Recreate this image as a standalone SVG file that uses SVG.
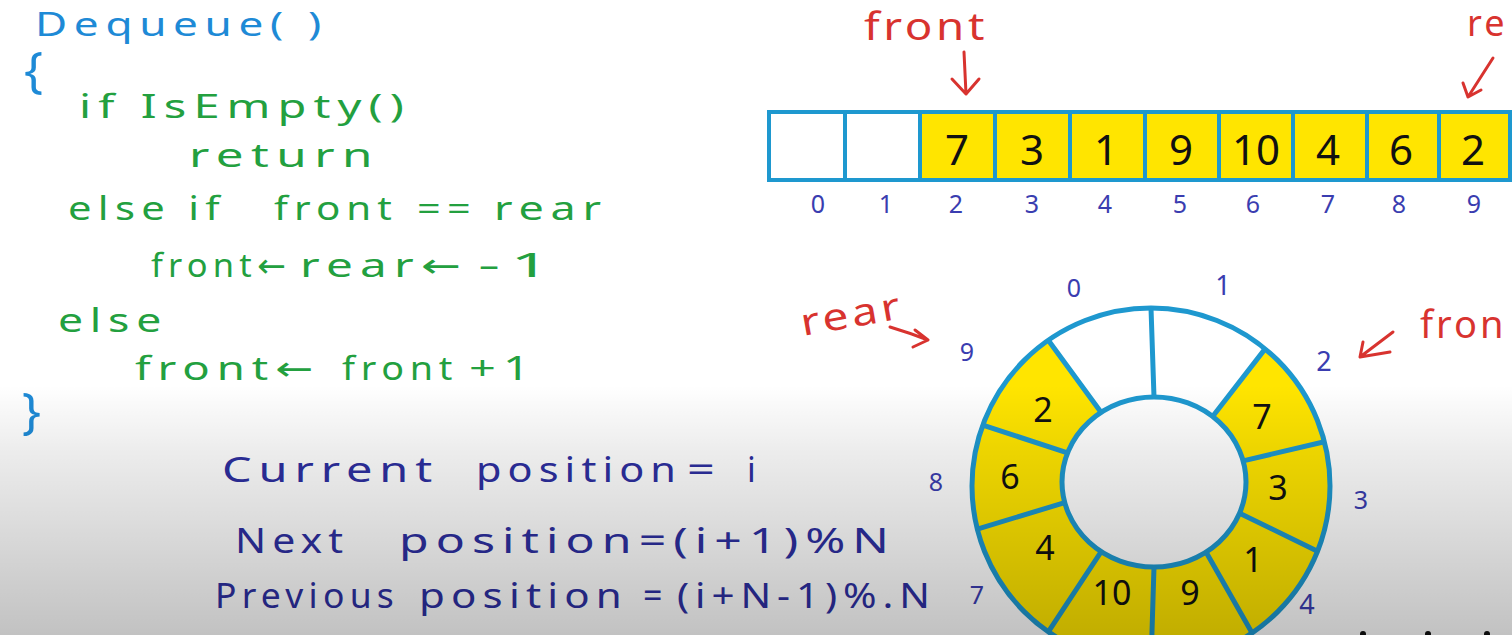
<svg xmlns="http://www.w3.org/2000/svg" width="1512" height="635" viewBox="0 0 1512 635">
<defs>
<style>
text { font-family: "Noto Sans", "DejaVu Sans", sans-serif; }
.code { fill: #23A03F; font-size: 33px; letter-spacing: 5px; }
.hdr { fill: #1E8AD6; font-size: 33px; letter-spacing: 5px; }
.brace { fill: #1E8AD6; font-size: 50px; }
.formula { fill: #2D2FA0; font-size: 34px; letter-spacing: 5px; }
.red { fill: #D8332F; font-size: 38px; letter-spacing: 3px; }
.idx { fill: #3A3DB0; font-size: 25px; text-anchor: middle; }
.num { fill: #111111; font-size: 42px; text-anchor: middle; }
.rnum { fill: #111111; font-size: 34px; text-anchor: middle; }
.cell { stroke: #1E98CF; stroke-width: 4; }
.yl { fill: #FFE500; }
.wh { fill: #FFFFFF; }
.ring { stroke: #1E98CF; stroke-width: 5; }
.arrow { stroke: #D8332F; stroke-width: 3; fill: none; stroke-linecap: round; stroke-linejoin: round; }
</style>
<linearGradient id="shade" x1="0" y1="385" x2="0" y2="635" gradientUnits="userSpaceOnUse">
<stop offset="0" stop-color="#000" stop-opacity="0"/>
<stop offset="0.25" stop-color="#000" stop-opacity="0.07"/>
<stop offset="1" stop-color="#000" stop-opacity="0.24"/>
</linearGradient>
</defs>
<rect width="1512" height="635" fill="#FFFFFF"/>

<g id="code">
<text class="hdr" x="35" y="36" textLength="293" lengthAdjust="spacingAndGlyphs">Dequeue( )</text>
<text class="brace" x="24" y="87">{</text>
<text class="code" x="79" y="118" textLength="332" lengthAdjust="spacingAndGlyphs">if IsEmpty()</text>
<text class="code" x="189" y="167" textLength="191" lengthAdjust="spacingAndGlyphs">return</text>
<text class="code" x="68" y="220" textLength="158" lengthAdjust="spacingAndGlyphs">else if</text>
<text class="code" x="274" y="220" textLength="124" lengthAdjust="spacingAndGlyphs">front</text>
<text class="code" x="417" y="220" textLength="60" lengthAdjust="spacingAndGlyphs">==</text>
<text class="code" x="494" y="220" textLength="114" lengthAdjust="spacingAndGlyphs">rear</text>
<text class="code" x="151" y="277" textLength="140" lengthAdjust="spacingAndGlyphs">front←</text>
<text class="code" x="300" y="277" textLength="168" lengthAdjust="spacingAndGlyphs">rear←</text>
<text class="code" x="478" y="277" textLength="82" lengthAdjust="spacingAndGlyphs">-1</text>
<text class="code" x="58" y="332" textLength="110" lengthAdjust="spacingAndGlyphs">else</text>
<text class="code" x="135" y="380" textLength="185" lengthAdjust="spacingAndGlyphs">front←</text>
<text class="code" x="342" y="380" textLength="116" lengthAdjust="spacingAndGlyphs">front</text>
<text class="code" x="469" y="380" textLength="68" lengthAdjust="spacingAndGlyphs">+1</text>
<text class="brace" x="22" y="428">}</text>
</g>

<g id="formulas">
<text class="formula" x="222" y="482" textLength="217" lengthAdjust="spacingAndGlyphs">Current</text>
<text class="formula" x="476" y="482" textLength="206" lengthAdjust="spacingAndGlyphs">position</text>
<text class="formula" x="687" y="482" textLength="35" lengthAdjust="spacingAndGlyphs">=</text>
<text class="formula" x="747" y="482">i</text>
<text class="formula" x="235" y="553" textLength="114" lengthAdjust="spacingAndGlyphs">Next</text>
<text class="formula" x="399" y="553" textLength="497" lengthAdjust="spacingAndGlyphs">position=(i+1)%N</text>
<text class="formula" x="215" y="608" textLength="184" lengthAdjust="spacingAndGlyphs">Previous</text>
<text class="formula" x="419" y="608" textLength="209" lengthAdjust="spacingAndGlyphs">position</text>
<text class="formula" x="643" y="608">=</text>
<text class="formula" x="677" y="608" textLength="259" lengthAdjust="spacingAndGlyphs">(i+N-1)%.N</text>
</g>

<g id="array">
<g id="cell0"><rect class="cell wh" x="769" y="112" width="76" height="68"/></g>
<g id="cell1"><rect class="cell wh" x="845" y="112" width="75" height="68"/></g>
<g id="cell2"><rect class="cell yl" x="920" y="112" width="75" height="68"/><text class="num" x="957" y="165">7</text></g>
<g id="cell3"><rect class="cell yl" x="995" y="112" width="75" height="68"/><text class="num" x="1032" y="165">3</text></g>
<g id="cell4"><rect class="cell yl" x="1070" y="112" width="75" height="68"/><text class="num" x="1106" y="165">1</text></g>
<g id="cell5"><rect class="cell yl" x="1145" y="112" width="74" height="68"/><text class="num" x="1181" y="165">9</text></g>
<g id="cell6"><rect class="cell yl" x="1219" y="112" width="74" height="68"/><text class="num" x="1256" y="165">10</text></g>
<g id="cell7"><rect class="cell yl" x="1293" y="112" width="74" height="68"/><text class="num" x="1328" y="165">4</text></g>
<g id="cell8"><rect class="cell yl" x="1367" y="112" width="72" height="68"/><text class="num" x="1401" y="165">6</text></g>
<g id="cell9"><rect class="cell yl" x="1439" y="112" width="71" height="68"/><text class="num" x="1473" y="165">2</text></g>
<g id="array-index">
<text class="idx" x="818" y="213">0</text>
<text class="idx" x="886" y="213">1</text>
<text class="idx" x="956" y="213">2</text>
<text class="idx" x="1032" y="213">3</text>
<text class="idx" x="1105" y="213">4</text>
<text class="idx" x="1180" y="213">5</text>
<text class="idx" x="1253" y="213">6</text>
<text class="idx" x="1328" y="213">7</text>
<text class="idx" x="1399" y="213">8</text>
<text class="idx" x="1474" y="213">9</text>
</g>
</g>

<g id="ring">
<g id="seg0"><path class="wh" d="M1048.3,340.2 A179,178 0 0 1 1151,308 L1154,397 A92,85 0 0 0 1101.2,412.4 Z"/></g>
<g id="seg1"><path class="wh" d="M1151,308 A179,178 0 0 1 1265.1,348.9 L1212.6,416.5 A92,85 0 0 0 1154,397 Z"/></g>
<g id="seg2"><path class="yl" d="M1265.1,348.9 A179,178 0 0 1 1324.4,441.7 L1243.1,460.9 A92,85 0 0 0 1212.6,416.5 Z"/><text class="rnum" x="1262" y="429">7</text></g>
<g id="seg3"><path class="yl" d="M1324.4,441.7 A179,178 0 0 1 1317.5,551.2 L1239.6,513.2 A92,85 0 0 0 1243.1,460.9 Z"/><text class="rnum" x="1278" y="500">3</text></g>
<g id="seg4"><path class="yl" d="M1317.5,551.2 A179,178 0 0 1 1252.1,632.9 L1206,552.1 A92,85 0 0 0 1239.6,513.2 Z"/><text class="rnum" x="1253" y="572">1</text></g>
<g id="seg5"><path class="yl" d="M1252.1,632.9 A179,178 0 0 1 1151,664 L1154,567 A92,85 0 0 0 1206,552.1 Z"/><text class="rnum" x="1190" y="605">9</text></g>
<g id="seg6"><path class="yl" d="M1151,664 A179,178 0 0 1 1048.3,631.8 L1101.2,551.6 A92,85 0 0 0 1154,567 Z"/><text class="rnum" x="1112" y="605">10</text></g>
<g id="seg7"><path class="yl" d="M1048.3,631.8 A179,178 0 0 1 977.3,529.1 L1064.7,502.6 A92,85 0 0 0 1101.2,551.6 Z"/><text class="rnum" x="1045" y="560">4</text></g>
<g id="seg8"><path class="yl" d="M977.3,529.1 A179,178 0 0 1 982.8,425.1 L1067.5,452.9 A92,85 0 0 0 1064.7,502.6 Z"/><text class="rnum" x="1010" y="489">6</text></g>
<g id="seg9"><path class="yl" d="M982.8,425.1 A179,178 0 0 1 1048.3,340.2 L1101.2,412.4 A92,85 0 0 0 1067.5,452.9 Z"/><text class="rnum" x="1043" y="422">2</text></g>
<g id="ring-outline" class="ring" fill="none">
<ellipse cx="1151" cy="486" rx="179" ry="178"/>
<ellipse cx="1154" cy="482" rx="92" ry="85" fill="#FFFFFF"/>
<path d="M1151,308 L1154,397 M1265.1,348.9 L1212.6,416.5 M1324.4,441.7 L1243.1,460.9 M1317.5,551.2 L1239.6,513.2 M1252.1,632.9 L1206,552.1 M1151,664 L1154,567 M1048.3,631.8 L1101.2,551.6 M977.3,529.1 L1064.7,502.6 M982.8,425.1 L1067.5,452.9 M1048.3,340.2 L1101.2,412.4"/>
</g>
<g id="ring-index">
<text class="idx" x="1074" y="297">0</text>
<text class="idx" x="1223" y="295" style="font-size:27px">1</text>
<text class="idx" x="1324" y="371" style="font-size:27px">2</text>
<text class="idx" x="1361" y="509">3</text>
<text class="idx" x="1307" y="614" style="font-size:27px">4</text>
<text class="idx" x="977" y="604">7</text>
<text class="idx" x="936" y="491">8</text>
<text class="idx" x="967" y="361">9</text>
</g>
</g>

<g id="labels">
<text class="red" x="864" y="40" textLength="124" lengthAdjust="spacingAndGlyphs">front</text>
<text class="red" x="1467" y="36" style="font-size:36px">re</text>
<text class="red" x="801" y="327" textLength="104" lengthAdjust="spacingAndGlyphs" transform="rotate(-10 853 320)">rear</text>
<text class="red" x="1420" y="338">fron</text>
</g>

<g id="connectors">
<path class="arrow" d="M964,52 L966,94 M952,79 L966,94 L979,79"/>
<path class="arrow" d="M1493,58 L1468,97 M1463,83 L1468,97 L1481,90"/>
<path class="arrow" d="M890,327 Q910,333 928,340 M915,330 L928,340 L913,347"/>
<path class="arrow" d="M1393,332 L1360,357 M1363,342 L1360,357 L1390,352"/>
</g>

<g id="marks" fill="#111">
<ellipse cx="1363" cy="634" rx="3" ry="3"/>
<ellipse cx="1428" cy="634" rx="3" ry="3"/>
<ellipse cx="1487" cy="634" rx="3" ry="3"/>
</g>

<rect x="0" y="385" width="1512" height="250" fill="url(#shade)"/>
</svg>
